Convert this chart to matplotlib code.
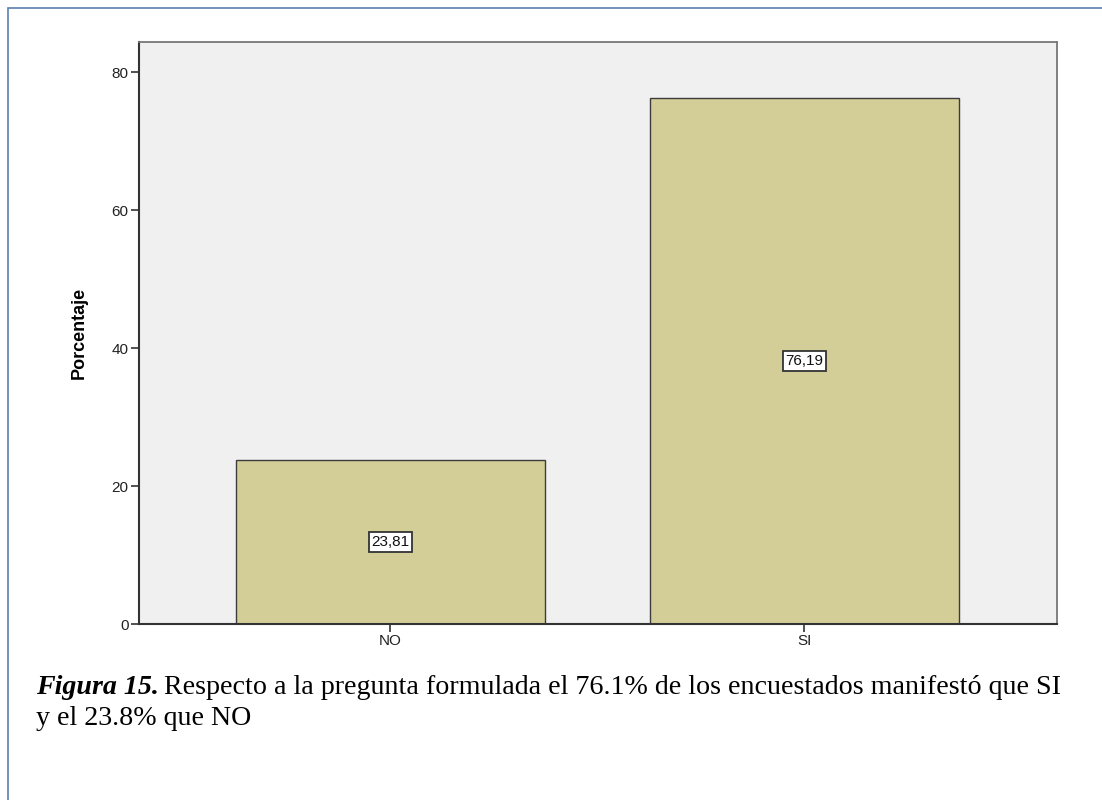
import matplotlib.pyplot as plt
from matplotlib.patches import Rectangle

categorias = ["NO", "SI"]
porcentajes = [23.81, 76.19]
etiquetas = ["23,81", "76,19"]
y_ticks = [0, 20, 40, 60, 80]

plt.rcParams['font.family'] = ['Liberation Sans', 'DejaVu Sans']

fig = plt.figure(figsize=(11.02, 8), dpi=100)
ax = fig.add_axes([139 / 1102, 176 / 800, 918 / 1102, 582 / 800])
ax.set_facecolor("#f0f0f0")

pos = range(len(categorias))
ax.bar(pos, porcentajes, width=0.746, color="#d3ce98", edgecolor="#3c3c3c", linewidth=1.0, zorder=2)

for x, v, t in zip(pos, porcentajes, etiquetas):
    ax.text(x, v / 2, t, ha="center", va="center", fontsize=11, color="#111111", zorder=3,
            bbox=dict(boxstyle="square,pad=0.18", facecolor="white", edgecolor="#333333", linewidth=1.3))

ax.set_xlim(-0.6075, 1.61)
ax.set_ylim(0, 84.35)
ax.set_xticks(list(pos))
ax.set_xticklabels(categorias)
ax.set_yticks(y_ticks)
ax.tick_params(axis="both", labelsize=11, length=6, width=1.2, color="#333333", labelcolor="#222222", pad=1.5)

for s in ["left", "bottom"]:
    ax.spines[s].set_color("#333333")
    ax.spines[s].set_linewidth(1.5)
for s in ["top", "right"]:
    ax.spines[s].set_color("#777777")
    ax.spines[s].set_linewidth(1.3)

ax.set_ylabel("Porcentaje", fontsize=13, fontweight="bold")
ax.yaxis.set_label_coords(-51 / 918, 0.5)

fig.patches.append(Rectangle((8 / 1102, -0.05), 1.1, (792 / 800) + 0.05, transform=fig.transFigure,
                             fill=False, edgecolor="#5b7fb4", linewidth=1.2))

# caption: bold italic lead-in, then regular text on the same baseline
cap_size = 20.2
y1 = (800 - 694) / 800
y2 = (800 - 725) / 800
t1 = fig.text(36 / 1102, y1, "Figura 15.", fontsize=cap_size, fontweight="bold", style="italic",
              family="Liberation Serif", ha="left", va="baseline")
r = fig.canvas.get_renderer()
w = t1.get_window_extent(renderer=r).width
fig.text((36 + w + 5) / 1102, y1,
         "Respecto a la pregunta formulada el 76.1% de los encuestados manifestó que SI",
         fontsize=cap_size, family="Liberation Serif", ha="left", va="baseline")
fig.text(36 / 1102, y2, "y el 23.8% que NO", fontsize=cap_size, family="Liberation Serif",
         ha="left", va="baseline")

plt.savefig("out.png", dpi=100)
